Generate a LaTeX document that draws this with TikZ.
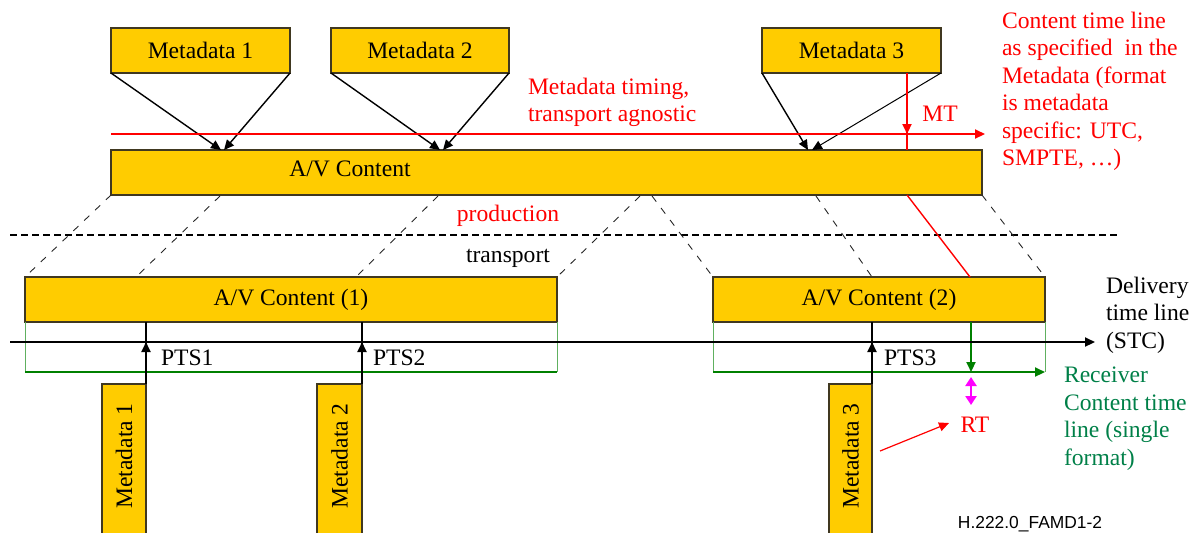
\documentclass[tikz,border=0pt]{standalone}
\usepackage{fontspec}
\setmainfont{Liberation Serif}
\newfontfamily\figsans{Liberation Sans}
\usetikzlibrary{arrows.meta}
\definecolor{boxfill}{HTML}{FFCC00}
\definecolor{boxline}{HTML}{403820}
\definecolor{tred}{HTML}{FF0000}
\definecolor{tgreen}{HTML}{008000}
\definecolor{rgreen}{HTML}{008048}
\definecolor{lgreen}{HTML}{60B060}
\definecolor{mag}{HTML}{FF00FF}
\begin{document}
\begin{tikzpicture}[x=0.5pt,y=-0.5pt,
  font=\fontsize{11.8}{13.75}\selectfont,
  ybox/.style={draw=boxline, fill=boxfill, line width=0.6pt, inner sep=0pt, outer sep=0pt},
  tip/.style={-{Triangle[length=5pt,width=4.5pt]}},
  mdarrow/.style={draw=black, line width=0.7pt, tip},
  proj/.style={draw=black!85, line width=0.45pt, dash pattern=on 3.5pt off 4pt},
  redl/.style={draw=tred, line width=1pt},
  txt/.style={inner sep=0pt, outer sep=0pt},
  mline/.style={align=left, inner sep=0pt, outer sep=0pt, anchor=north west}
]
\useasboundingbox (0,0) rectangle (1192,532);

% ---------- production side ----------
\node[ybox, minimum width=89.5pt, minimum height=22.5pt] (md1) at (200.5,50.5) {Metadata 1};
\node[ybox, minimum width=89pt, minimum height=22.5pt] (md2) at (420,50.5) {Metadata 2};
\node[ybox, minimum width=89.5pt, minimum height=22.5pt] (md3) at (851.5,50.5) {Metadata 3};
\node[ybox, minimum width=435.5pt, minimum height=22.5pt] (av) at (546.5,172.5) {};
\node[txt] (avt) at (350,169) {A/V Content};

% arrow targets on A/V Content
\coordinate (t1a) at (221,150); \coordinate (t1b) at (224,150);
\coordinate (t2a) at (440,150); \coordinate (t2b) at (443,150);
\coordinate (t3a) at (808,150); \coordinate (t3b) at (812,150);
\draw[mdarrow] (md1.south west) -- (t1a);
\draw[mdarrow] (md1.south east) -- (t1b);
\draw[mdarrow] (md2.south west) -- (t2a);
\draw[mdarrow] (md2.south east) -- (t2b);
\draw[mdarrow] (md3.south west) -- (t3a);
\draw[mdarrow, line width=0.5pt] (md3.south east) -- (t3b);

% metadata time line (red)
\coordinate (mtS) at (111,134);
\coordinate (mtE) at (985,134);
\draw[redl, tip] (mtS) -- (mtE);
\coordinate (mt0) at (907,73);
\draw[redl] (mt0) -- (mt0 |- av.north);
\draw[redl, tip] (mt0) -- (mt0 |- mtS);
\node[txt, text=tred, anchor=base] (mtl) at (940,121) {MT};
\node[mline, text=tred] (mtt) at (528,78) {Metadata timing,\\transport agnostic};
\node[mline, text=tred] (ctl) at (1002,12) {Content time line\\as specified\ \ in the\\Metadata (format\\is metadata\\specific: UTC,\\SMPTE, \dots)};

% production / transport divider
\coordinate (dv0) at (10,235);
\coordinate (dv1) at (1120,235);
\draw[black, line width=1pt, dash pattern=on 3.5pt off 2pt] (dv0) -- (dv1);
\node[txt, text=tred, anchor=base] (prod) at (508,221) {production};
\node[txt, anchor=base] (trans) at (508,262) {transport};

% ---------- transport side ----------
\node[ybox, minimum width=266pt, minimum height=22.5pt] (av1) at (291,299.5) {A/V Content (1)};
\node[ybox, minimum width=166pt, minimum height=22.5pt] (av2) at (879,299.5) {A/V Content (2)};

% projection lines
\coordinate (p2a) at (220,196); \coordinate (p2b) at (136,277);
\coordinate (p3a) at (438,196); \coordinate (p3b) at (356,277);
\coordinate (p4a) at (640,196);
\coordinate (p5a) at (652,196);
\coordinate (p6a) at (816,196); \coordinate (p6b) at (872,277);
\draw[proj] (av.south west) -- (av1.north west);
\draw[proj] (p2a) -- (p2b);
\draw[proj] (p3a) -- (p3b);
\draw[proj] (p4a) -- (av1.north east);
\draw[proj] (p5a) -- (av2.north west);
\draw[proj] (p6a) -- (p6b);
\draw[proj] (av.south east) -- (av2.north east);
\coordinate (rd) at (970,277);
\draw[tred, line width=0.7pt] (mt0 |- av.south) -- (rd);

% receiver frames (green)
\coordinate (gy) at (0,372);
\draw[lgreen, line width=0.5pt] (av1.south west) -- (av1.south west |- gy);
\draw[lgreen, line width=0.5pt] (av1.south east) -- (av1.south east |- gy);
\draw[tgreen, line width=1pt] (av1.south west |- gy) -- (av1.south east |- gy);
\draw[lgreen, line width=0.5pt] (av2.south west) -- (av2.south west |- gy);
\draw[lgreen, line width=0.5pt] (av2.south east) -- (av2.south east |- gy);
\draw[tgreen, line width=1pt, tip] (av2.south west |- gy) -- (av2.south east |- gy);
\coordinate (rx) at (971,322);
\draw[tgreen, line width=1pt, tip] (rx) -- (rx |- gy);

% delivery time line
\coordinate (tl0) at (10,342);
\coordinate (tl1) at (1095,342);
\draw[black, line width=1pt, tip] (tl0) -- (tl1);

% lower metadata boxes
\node[ybox, minimum width=22pt, minimum height=88pt] (mv1) at (124,472) {};
\node[ybox, minimum width=22.5pt, minimum height=88pt] (mv2) at (339.5,472) {};
\node[ybox, minimum width=21.5pt, minimum height=88pt] (mv3) at (850.5,472) {};
\node[txt, rotate=90] (mv1t) at (124,456) {Metadata 1};
\node[txt, rotate=90] (mv2t) at (339.5,456) {Metadata 2};
\node[txt, rotate=90] (mv3t) at (850.5,456) {Metadata 3};

% PTS lines
\foreach \m in {mv1,mv2,mv3}{
  \draw[black, line width=1pt] (\m.north east) -- (\m.north east |- av1.south);
  \draw[black, line width=1pt, tip] (\m.north east) -- (\m.north east |- tl0);
}
\node[txt, anchor=base west] (pts1) at (161,365) {PTS1};
\node[txt, anchor=base west] (pts2) at (373,365) {PTS2};
\node[txt, anchor=base west] (pts3) at (884,365) {PTS3};

% RT
\coordinate (rt0) at (971,377);
\coordinate (rt1) at (971,405);
\draw[mag, line width=1.3pt, {Triangle[length=4.5pt,width=5.5pt]}-{Triangle[length=4.5pt,width=5.5pt]}] (rt0) -- (rt1);
\node[txt, text=tred, anchor=base] (rt) at (975,432) {RT};
\coordinate (rta) at (880,451);
\coordinate (rtb) at (949,423);
\draw[tred, line width=0.6pt, tip] (rta) -- (rtb);

% right labels
\node[mline] (dtl) at (1106,277) {Delivery\\time line\\(STC)};
\node[mline, text=rgreen] (rcl) at (1064,367) {Receiver\\Content time\\line (single\\format)};
\node[txt, anchor=base, font=\figsans\fontsize{8.7}{10}\selectfont] (fig) at (1030,528) {H.222.0\_FAMD1-2};
\end{tikzpicture}
\end{document}
